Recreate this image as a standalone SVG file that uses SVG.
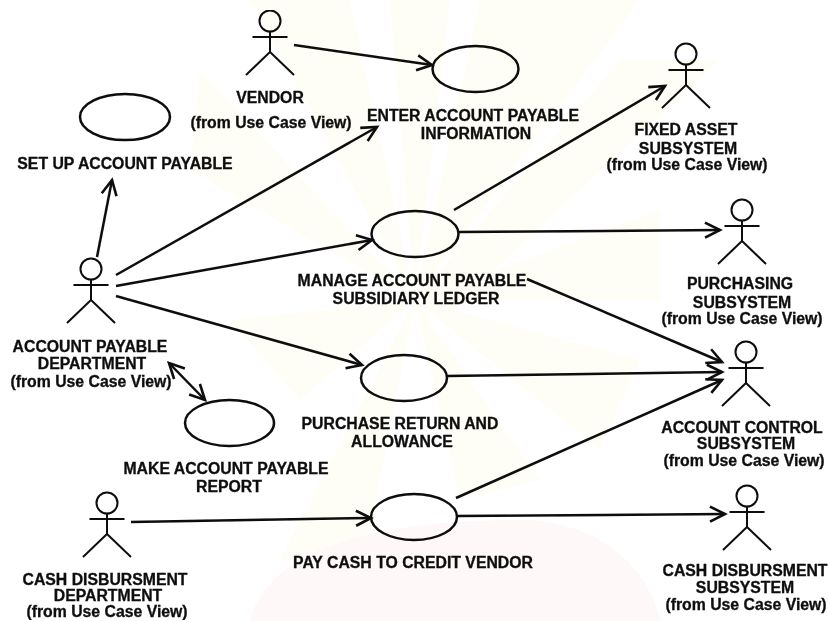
<svg xmlns="http://www.w3.org/2000/svg" width="828" height="621" viewBox="0 0 828 621">
<style>
.bg{fill:#fefdf6;stroke:none}
.pk{fill:#fef8f9;stroke:none}
.uc{fill:none;stroke:#0c0c0c;stroke-width:2.5}
.a{fill:none;stroke:#0c0c0c;stroke-width:2}
.c{fill:none;stroke:#0c0c0c;stroke-width:2.5;marker-end:url(#arr)}
text{font-family:"Liberation Sans",Arial,sans-serif;font-weight:700;font-size:15.8px;fill:#0c0c0c;text-anchor:middle;stroke:#0c0c0c;stroke-width:.3}
text.f{font-size:15.8px}
</style>
<defs>
<marker id="arr" markerUnits="userSpaceOnUse" markerWidth="22" markerHeight="22" viewBox="-18 -11 22 22" refX="0" refY="0" orient="auto"><path d="M-15,-7.5 L0,0 L-15,7.5" fill="none" stroke="#0c0c0c" stroke-width="2.6"/></marker>
<marker id="arrs" markerUnits="userSpaceOnUse" markerWidth="22" markerHeight="22" viewBox="-18 -11 22 22" refX="0" refY="0" orient="auto-start-reverse"><path d="M-15,-7.5 L0,0 L-15,7.5" fill="none" stroke="#0c0c0c" stroke-width="2.6"/></marker>
<g id="actor"><circle cx="0" cy="0" r="10.5" class="a"/><path class="a" d="M-17.5,16H17.5M0,10.5V31M0,31L-24,54M0,31L24,54"/></g>
<filter id="soft" x="0" y="0" width="100%" height="100%"><feGaussianBlur stdDeviation="0.5"/></filter>
</defs>
<rect width="828" height="621" fill="#fff"/>
<g id="watermark">
<path class="bg" d="M415,300L250,0H350Z M415,300L390,0H450Z M415,300L480,0H640Z M415,300L620,60H720L440,320Z M415,300L200,70L190,170Z M415,300L660,210V300Z M415,300L280,560L360,580Z M415,300L460,500L540,480Z M415,300L230,320L300,400Z M415,300L640,360L600,450Z"/>
<path class="pk" d="M250,621C270,540 400,520 520,520C600,520 650,570 660,621Z"/>
</g>
<g filter="url(#soft)">
<g id="connectors">
<path class="c" d="M294,45L432,65"/>
<path class="c" d="M97,257L112,180"/>
<path class="c" d="M116,275L377,127"/>
<path class="c" d="M116,286L372,240"/>
<path class="c" d="M116,296L362,365"/>
<path class="c" style="marker-start:url(#arrs)" d="M169,363L205,400"/>
<path class="c" d="M131,522L371,518"/>
<path class="c" d="M454,210L665,86"/>
<path class="c" d="M459,232L720,230"/>
<path class="c" d="M527,279L722,362"/>
<path class="c" d="M447,376L722,372"/>
<path class="c" d="M456,498L722,380"/>
<path class="c" d="M457,516L725,514"/>
</g>
<g id="vendor"><use href="#actor" x="270" y="21"/><text x="270" y="103">VENDOR</text><text class="f" x="271" y="128">(from Use Case View)</text></g>
<g id="account-payable-department"><use href="#actor" x="91" y="269"/><text x="90" y="352">ACCOUNT PAYABLE</text><text x="92" y="369">DEPARTMENT</text><text class="f" x="91" y="387">(from Use Case View)</text></g>
<g id="fixed-asset-subsystem"><use href="#actor" x="686" y="54"/><text x="686" y="135">FIXED ASSET</text><text x="688" y="154">SUBSYSTEM</text><text class="f" x="687" y="170">(from Use Case View)</text></g>
<g id="purchasing-subsystem"><use href="#actor" x="742" y="210"/><text x="740" y="289">PURCHASING</text><text x="742" y="308">SUBSYSTEM</text><text class="f" x="742" y="324">(from Use Case View)</text></g>
<g id="account-control-subsystem"><use href="#actor" x="746" y="352"/><text x="742" y="433">ACCOUNT CONTROL</text><text x="746" y="449">SUBSYSTEM</text><text class="f" x="744" y="466">(from Use Case View)</text></g>
<g id="cash-disbursment-subsystem"><use href="#actor" x="747" y="496"/><text x="745" y="576">CASH DISBURSMENT</text><text x="745" y="593">SUBSYSTEM</text><text class="f" x="746" y="610">(from Use Case View)</text></g>
<g id="cash-disbursment-department"><use href="#actor" x="107" y="503"/><text x="105" y="585">CASH DISBURSMENT</text><text x="108" y="601">DEPARTMENT</text><text class="f" x="107" y="617">(from Use Case View)</text></g>
<g id="set-up-account-payable"><ellipse class="uc" cx="125" cy="117" rx="45" ry="23"/><text x="125" y="169">SET UP ACCOUNT PAYABLE</text></g>
<g id="enter-account-payable"><ellipse class="uc" cx="475.5" cy="69" rx="43" ry="23"/><text x="473" y="121">ENTER ACCOUNT PAYABLE</text><text x="476" y="139">INFORMATION</text></g>
<g id="manage-account-payable"><ellipse class="uc" cx="415" cy="234" rx="43.5" ry="23"/><text x="412" y="286">MANAGE ACCOUNT PAYABLE</text><text x="416" y="304">SUBSIDIARY LEDGER</text></g>
<g id="purchase-return"><ellipse class="uc" cx="404" cy="378" rx="43" ry="23"/><text x="400" y="429">PURCHASE RETURN AND</text><text x="402" y="447">ALLOWANCE</text></g>
<g id="make-report"><ellipse class="uc" cx="229.5" cy="423" rx="44.5" ry="23"/><text x="226" y="474">MAKE ACCOUNT PAYABLE</text><text x="229" y="492">REPORT</text></g>
<g id="pay-cash"><ellipse class="uc" cx="414" cy="517" rx="43" ry="23"/><text x="413" y="568">PAY CASH TO CREDIT VENDOR</text></g>
</g>
</svg>
